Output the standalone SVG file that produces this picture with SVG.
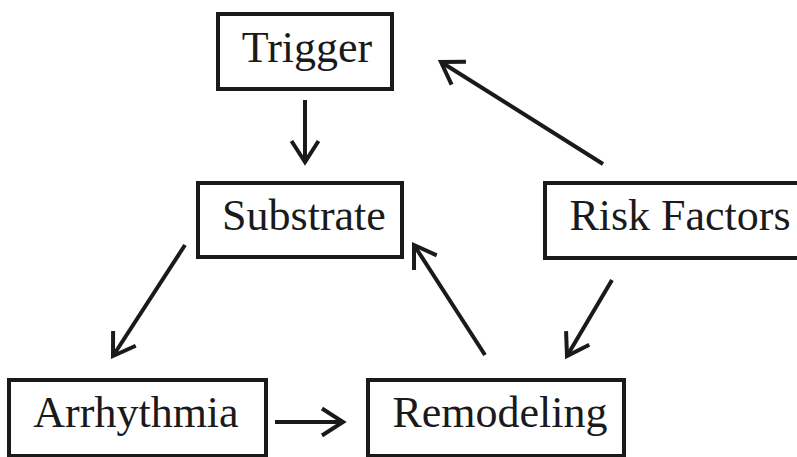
<svg xmlns="http://www.w3.org/2000/svg" width="797" height="457" viewBox="0 0 797 457">
<style>
.box{fill:#fff;stroke:#1a1a1a;stroke-width:4}
.lbl{font-family:"Liberation Serif","Times New Roman",serif;font-size:44px;fill:#1a1a1a;text-anchor:middle}
.edge{stroke:#1a1a1a;stroke-width:4;fill:none;marker-end:url(#ah)}
</style>
<defs>
<marker id="ah" markerUnits="userSpaceOnUse" markerWidth="60" markerHeight="60" refX="0" refY="0" orient="auto" overflow="visible" viewBox="-30 -30 60 60">
<path d="M-21,-13.5 L0,0 L-21,13.5" fill="none" stroke="#1a1a1a" stroke-width="4"/>
</marker>
</defs>
<rect width="797" height="457" fill="#fff"/>
<g id="trigger"><rect class="box" x="218" y="14" width="174" height="75"/><text class="lbl" x="307" y="62">Trigger</text></g>
<g id="substrate"><rect class="box" x="198" y="183" width="204" height="74"/><text class="lbl" x="304" y="230">Substrate</text></g>
<g id="risk-factors"><rect class="box" x="545" y="183" width="260" height="75"/><text class="lbl" x="680" y="230">Risk Factors</text></g>
<g id="arrhythmia"><rect class="box" x="9" y="380" width="257" height="76"/><text class="lbl" x="136" y="427">Arrhythmia</text></g>
<g id="remodeling"><rect class="box" x="368" y="380" width="256" height="76"/><text class="lbl" x="500" y="427">Remodeling</text></g>
<g id="connectors">
<line class="edge" x1="305" y1="100" x2="305" y2="162"/>
<line class="edge" x1="603" y1="164" x2="441" y2="62"/>
<line class="edge" x1="612" y1="280" x2="567" y2="356"/>
<line class="edge" x1="485" y1="355" x2="414" y2="245"/>
<line class="edge" x1="185" y1="245" x2="113" y2="356"/>
<line class="edge" x1="275" y1="422" x2="343" y2="422"/>
</g>
</svg>
